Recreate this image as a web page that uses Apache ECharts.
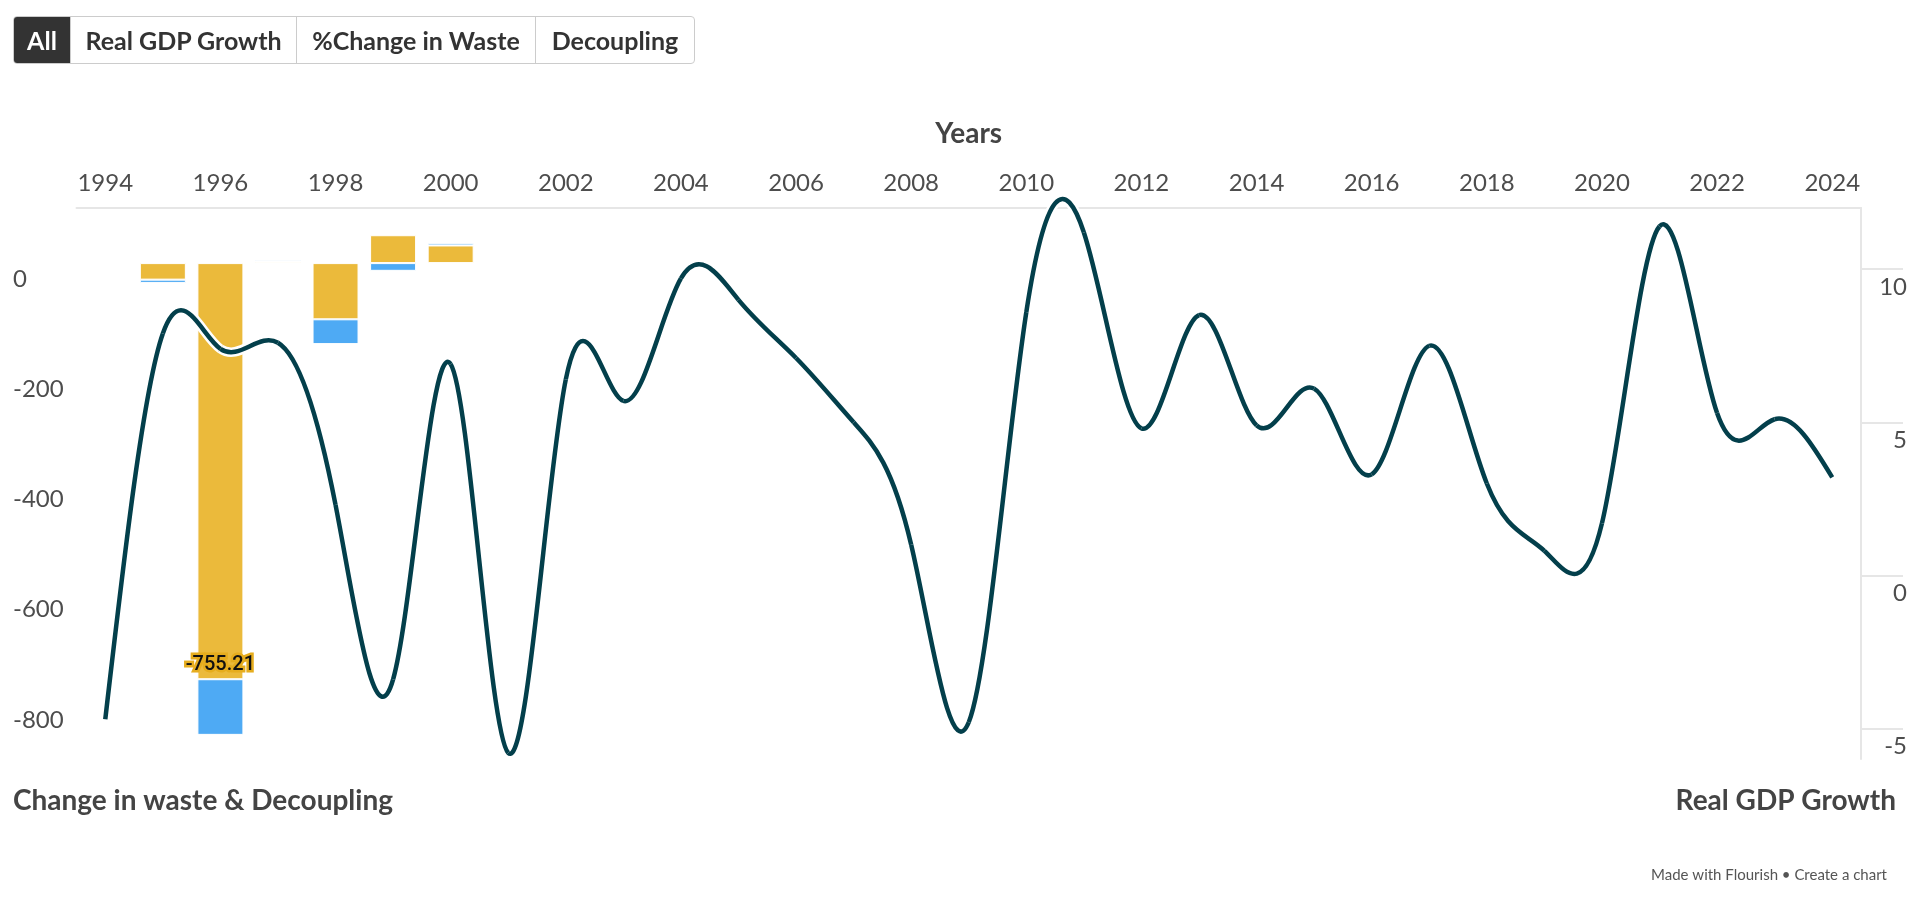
<!DOCTYPE html>
<html>
<head>
<meta charset="utf-8">
<title>Real GDP Growth, change in waste and decoupling</title>
<script src="https://cdn.jsdelivr.net/npm/echarts@6/dist/echarts.min.js"></script>
<style>
  html, body { margin: 0; padding: 0; background: #fff; }
  #chart { width: 1913px; height: 897px; }
  .tabs {
    position: absolute; left: 13px; top: 16px; height: 46px;
    display: flex; border: 1px solid #ccc; border-radius: 4px; overflow: hidden;
    font-family: Lato, sans-serif; font-weight: 700; font-size: 25px; color: #333;
  }
  .tabs div { display: flex; align-items: center; justify-content: center; border-left: 1px solid #ccc; }
  .tabs div.active { border-left: none; background: #333; color: #fff; }
</style>
</head>
<body>
<div id="chart"></div>
<div class="tabs">
  <div class="active" style="width:56px">All</div>
  <div style="width:225px">Real GDP Growth</div>
  <div style="width:238px">%Change in Waste</div>
  <div style="width:158px">Decoupling</div>
</div>
<script>
const years = [1994, 1995, 1996, 1997, 1998, 1999, 2000, 2001, 2002, 2003, 2004,
  2005, 2006, 2007, 2008, 2009, 2010, 2011, 2012, 2013, 2014,
  2015, 2016, 2017, 2018, 2019, 2020, 2021, 2022, 2023, 2024]

// Real GDP growth (%), right axis
const gdpGrowth = [-4.7, 7.9, 7.4, 7.6, 2.3, -3.4, 6.9, -5.8, 6.4, 5.7, 9.7,
  9.0, 7.1, 5.0, 1.0, -4.8, 8.6, 11.2, 4.8, 8.5, 4.9,
  6.1, 3.3, 7.5, 3.0, 0.8, 1.7, 11.4, 5.3, 5.1, 3.2]

// %Change in waste and decoupling, left axis (stacked)
const wasteChange = [null, -30, -755.21, 3, -102, 50.6, 32]
const decoupling = [null, -6, -101, 2, -45, -14, 4]

const leftTicks = [-800, -600, -400, -200, 0]
const rightTicks = [-5, 0, 5, 10]

const font = 'Lato'
const textColor = '#4d4d4d'
const axisGrey = '#e6e6e6'
const minWaste = Math.min(...wasteChange.filter(v => v != null))

// natural cubic spline control points (same maths as d3.curveNatural)
function naturalControls(x) {
  const n = x.length - 1
  const a = new Array(n), b = new Array(n), r = new Array(n)
  a[0] = 0; b[0] = 2; r[0] = x[0] + 2 * x[1]
  for (let i = 1; i < n - 1; ++i) { a[i] = 1; b[i] = 4; r[i] = 4 * x[i] + 2 * x[i + 1] }
  a[n - 1] = 2; b[n - 1] = 7; r[n - 1] = 8 * x[n - 1] + x[n]
  for (let i = 1; i < n; ++i) {
    const m = a[i] / b[i - 1]
    b[i] -= m
    r[i] -= m * r[i - 1]
  }
  a[n - 1] = r[n - 1] / b[n - 1]
  for (let i = n - 2; i >= 0; --i) a[i] = (r[i] - a[i + 1]) / b[i]
  b[n - 1] = (x[n] + a[n - 1]) / 2
  for (let i = 0; i < n - 1; ++i) b[i] = 2 * x[i + 1] - a[i + 1]
  return [a, b]
}

function curveSegment(color, width) {
  return function (params, api) {
    const i = params.dataIndex
    if (i >= gdpGrowth.length - 1) return
    const pts = gdpGrowth.map((g, k) => api.coord([k, g]))
    const [ax, bx] = naturalControls(pts.map(p => p[0]))
    const [ay, by] = naturalControls(pts.map(p => p[1]))
    return {
      type: 'bezierCurve',
      shape: {
        x1: pts[i][0], y1: pts[i][1],
        x2: pts[i + 1][0], y2: pts[i + 1][1],
        cpx1: ax[i], cpy1: ay[i],
        cpx2: bx[i], cpy2: by[i]
      },
      style: { stroke: color, lineWidth: width, fill: null }
    }
  }
}

const chart = echarts.init(document.getElementById('chart'))

chart.setOption({
  animation: false,
  grid: {
    left: 76.5,
    right: 52,
    top: 208,
    bottom: 138
  },
  xAxis: {
    type: 'category',
    data: years.map(String),
    position: 'top',
    name: 'Years',
    nameLocation: 'middle',
    nameGap: 60,
    nameTextStyle: { fontFamily: font, fontWeight: 'bold', fontSize: 28, color: '#444' },
    axisLine: { onZero: false, lineStyle: { color: axisGrey, width: 2 } },
    axisTick: { alignWithLabel: true, interval: 0, length: 12, lineStyle: { color: axisGrey, width: 2 } },
    axisLabel: { interval: 1, fontFamily: font, fontSize: 24, color: textColor, margin: 13 }
  },
  yAxis: [{
    type: 'value',
    position: 'left',
    min: -900,
    max: 100,
    axisLine: { show: false },
    axisTick: { show: false },
    splitLine: { show: false },
    axisLabel: {
      customValues: leftTicks,
      align: 'left',
      verticalAlign: 'top',
      margin: 63.5,
      padding: [4, 0, 0, 0],
      fontFamily: font,
      fontSize: 24,
      color: textColor
    }
  }, {
    type: 'value',
    position: 'right',
    min: -6,
    max: 12,
    splitLine: { show: false },
    axisLine: { show: true, lineStyle: { color: axisGrey, width: 2 } },
    axisTick: { show: true, customValues: rightTicks, length: 42, lineStyle: { color: axisGrey, width: 2 } },
    axisLabel: {
      customValues: rightTicks,
      align: 'right',
      verticalAlign: 'top',
      margin: 46,
      padding: [6, 0, 0, 0],
      fontFamily: font,
      fontSize: 24,
      color: textColor
    }
  }],
  series: [{
    name: '%Change in Waste',
    type: 'bar',
    stack: 'waste',
    yAxisIndex: 0,
    barWidth: 46,
    data: wasteChange,
    itemStyle: { color: '#ebba3b', borderColor: '#fff', borderWidth: 1 },
    label: {
      show: true,
      position: 'insideBottom',
      distance: 4,
      formatter: p => (p.value === minWaste ? String(p.value) : ''),
      fontFamily: 'Roboto',
      fontWeight: 500,
      fontSize: 20,
      color: '#111',
      textBorderColor: '#e6ad1e',
      textBorderWidth: 5
    },
    z: 2
  }, {
    name: 'Decoupling',
    type: 'bar',
    stack: 'waste',
    yAxisIndex: 0,
    barWidth: 46,
    data: decoupling,
    itemStyle: { color: '#4eaaf4', borderColor: '#fff', borderWidth: 1 },
    z: 2
  }, {
    // white halo under the GDP line
    name: 'halo',
    type: 'custom',
    yAxisIndex: 1,
    data: gdpGrowth.map((g, i) => [i, g]),
    encode: { x: 0, y: 1 },
    renderItem: curveSegment('#fff', 9.5),
    silent: true,
    clip: false,
    z: 3
  }, {
    name: 'Real GDP Growth',
    type: 'custom',
    yAxisIndex: 1,
    data: gdpGrowth.map((g, i) => [i, g]),
    encode: { x: 0, y: 1 },
    renderItem: curveSegment('#033f4b', 4.5),
    clip: false,
    z: 4
  }],
  graphic: [{
    type: 'text',
    left: 13,
    top: 787,
    style: { text: 'Change in waste & Decoupling', font: 'bold 28px Lato', fill: '#444' }
  }, {
    type: 'text',
    right: 17,
    top: 787,
    style: { text: 'Real GDP Growth', font: 'bold 28px Lato', fill: '#444' }
  }, {
    type: 'text',
    right: 26,
    top: 868,
    style: { text: 'Made with Flourish • Create a chart', font: '15px Lato', fill: '#555' }
  }]
})
</script>
</body>
</html>
